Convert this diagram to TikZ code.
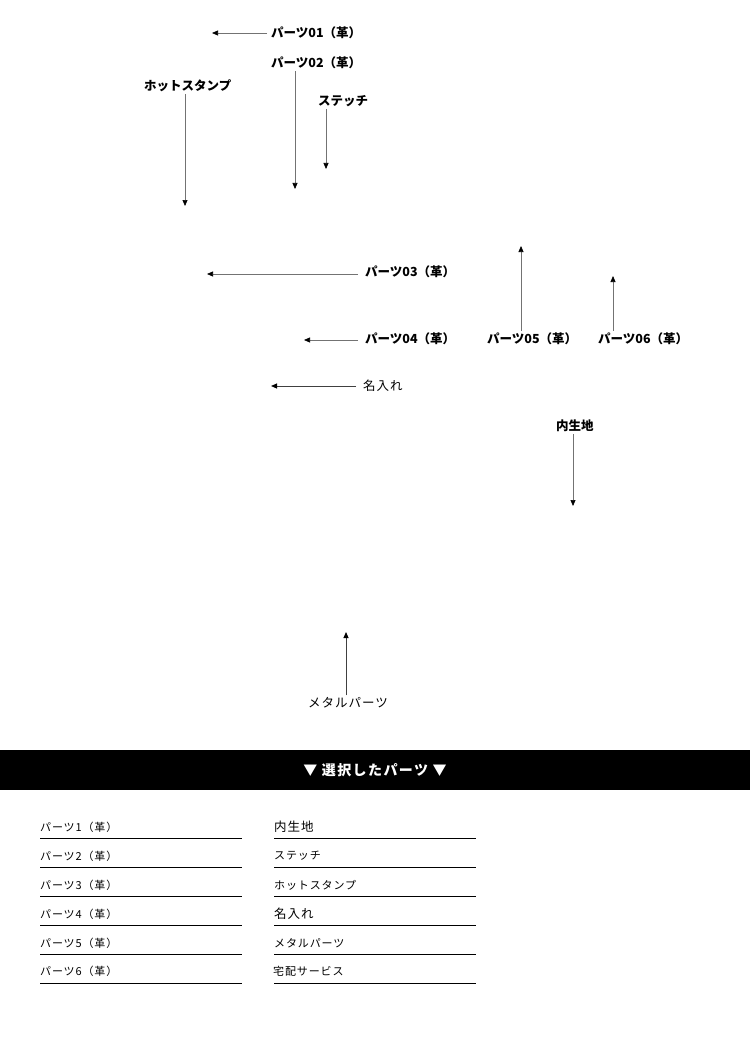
\documentclass[tikz,border=0pt]{standalone}
\usepackage{fontspec}
\setmainfont{Noto Sans CJK JP}
\newfontfamily\jpwide{Noto Sans CJK JP}[LetterSpace=8]
\newfontfamily\jphead{Noto Sans CJK JP}[LetterSpace=10]
\usetikzlibrary{arrows.meta}

\begin{document}
\begin{tikzpicture}[x=1pt,y=-1pt,
    part/.style={anchor=west,inner sep=2pt,font=\fontsize{12.5}{14}\selectfont\bfseries},
    note/.style={anchor=west,inner sep=2pt,font=\jpwide\fontsize{12.5}{14}\selectfont},
    ptr/.style={-{Triangle[length=6pt,width=5pt,color=black]},draw=black!55,line width=.7pt},
    hptr/.style={ptr,shorten <=5pt},
    dptr/.style={ptr,draw=black!75,line width=1pt},
    item/.style={anchor=west,inner sep=0pt,font=\jpwide\fontsize{11}{13}\selectfont},
    rule/.style={line width=.8pt}]

    \useasboundingbox (0,0) rectangle (750,1043);

    % the labels of the picture

    \node[part] (p01) at (269,33) {パーツ01（革）};
    \node[part] (p02) at (269,63) {パーツ02（革）};
    \node[part] (hot) at (142,86) {ホットスタンプ};
    \node[part] (stitch) at (316,101) {ステッチ};
    \node[part] (p03) at (363,272) {パーツ03（革）};
    \node[part] (p04) at (363,339) {パーツ04（革）};
    \node[note] (name) at (361,386) {名入れ};
    \node[part] (p05) at (485,339) {パーツ05（革）};
    \node[part] (p06) at (596,339) {パーツ06（革）};
    \node[part] (lining) at (554,426) {内生地};
    \node[note] (metal) at (306,703) {メタルパーツ};

    \coordinate (p01e) at (212,33);
    \coordinate (p02e) at (295,189);
    \coordinate (hote) at (185,206);
    \coordinate (stitche) at (326,169);
    \coordinate (p03e) at (207,274);
    \coordinate (p04e) at (304,340);
    \coordinate (namee) at (271,386);
    \coordinate (p05e) at (521,246);
    \coordinate (p06e) at (613,276);
    \coordinate (lininge) at (573,506);
    \coordinate (metale) at (346,632);

    \draw[ptr,shorten <=2pt] (p01.west |- p01e) -- (p01e);
    \draw[ptr] (p02.south -| p02e) -- (p02e);
    \draw[ptr] (hot.south -| hote) -- (hote);
    \draw[ptr] (stitch.south -| stitche) -- (stitche);
    \draw[hptr] (p03.west |- p03e) -- (p03e);
    \draw[hptr] (p04.west |- p04e) -- (p04e);
    \draw[dptr,shorten <=5pt] (name.west |- namee) -- (namee);
    \draw[ptr] (p05.north -| p05e) -- (p05e);
    \draw[ptr] (p06.north -| p06e) -- (p06e);
    \draw[ptr] (lining.south -| lininge) -- (lininge);
    \draw[dptr] (metal.north -| metale) -- (metale);

    % the selected parts

    \fill[black] (0,750) rectangle (750,790);
    \node[text=white,font=\jphead\fontsize{14}{16}\selectfont\bfseries] (head) at (375,770) {▼ 選択したパーツ ▼};

    \node[item] (l1) at (40,827) {パーツ1（革）};
    \node[item] (l2) at (40,856) {パーツ2（革）};
    \node[item] (l3) at (40,885) {パーツ3（革）};
    \node[item] (l4) at (40,914) {パーツ4（革）};
    \node[item] (l5) at (40,943) {パーツ5（革）};
    \node[item] (l6) at (40,971) {パーツ6（革）};
    \node[item,font=\jpwide\fontsize{12.5}{14}\selectfont] (r1) at (274,827) {内生地};
    \node[item] (r2) at (274,856) {ステッチ};
    \node[item] (r3) at (274,885) {ホットスタンプ};
    \node[item,font=\jpwide\fontsize{12.5}{14}\selectfont] (r4) at (274,914) {名入れ};
    \node[item] (r5) at (274,943) {メタルパーツ};
    \node[item] (r6) at (273,971) {宅配サービス};

    \draw[rule] (40,838) -- (242,838) (274,838) -- (476,838);
    \draw[rule] (40,867) -- (242,867) (274,867) -- (476,867);
    \draw[rule] (40,896) -- (242,896) (274,896) -- (476,896);
    \draw[rule] (40,925) -- (242,925) (274,925) -- (476,925);
    \draw[rule] (40,954) -- (242,954) (274,954) -- (476,954);
    \draw[rule] (40,983) -- (242,983) (274,983) -- (476,983);
  \end{tikzpicture}
\end{document}
